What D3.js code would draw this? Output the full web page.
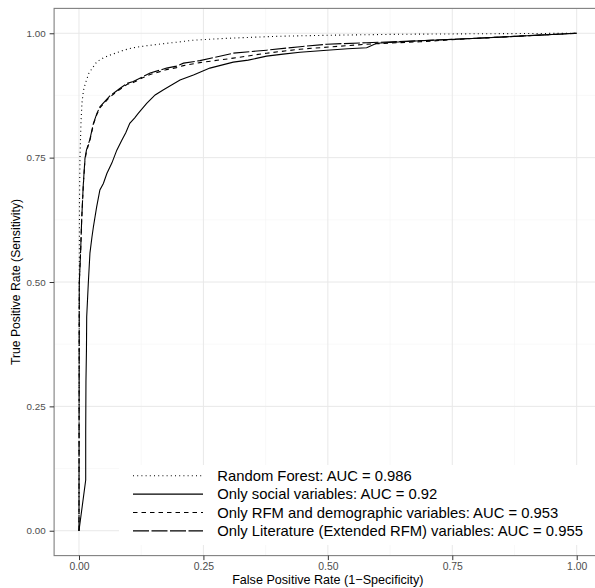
<!DOCTYPE html>
<html>
<head>
<meta charset="utf-8">
<script src="https://cdn.jsdelivr.net/npm/d3@7"></script>
<style>
  body { margin: 0; background: #fff; }
  text { font-family: "Liberation Sans", Arial, sans-serif; }
</style>
</head>
<body>
<div id="chart"></div>
<script>
// ROC curves
const rfFpr = [0, 0.0003, 0.0006, 0.001, 0.002, 0.004, 0.006, 0.009, 0.013, 0.02, 0.029, 0.036, 0.05, 0.062, 0.09, 0.109, 0.129, 0.16, 0.196, 0.229, 0.263, 0.3, 0.4, 0.5, 0.645, 0.8, 0.9, 1];
const rfTpr = [0, 0.3, 0.5, 0.66, 0.75, 0.82, 0.86, 0.885, 0.9, 0.92, 0.933, 0.943, 0.951, 0.956, 0.966, 0.971, 0.974, 0.978, 0.982, 0.986, 0.988, 0.99, 0.994, 0.996, 0.998, 0.999, 0.9995, 1];

const socFpr = [0, 0.0135, 0.0135, 0.014, 0.015, 0.0155, 0.0187, 0.022, 0.026, 0.029, 0.0355, 0.042, 0.049, 0.056, 0.066, 0.076, 0.086, 0.094, 0.102, 0.112, 0.119, 0.136, 0.153, 0.169, 0.186, 0.203, 0.23, 0.263, 0.31, 0.34, 0.377, 0.41, 0.444, 0.498, 0.54, 0.578, 0.598, 0.685, 0.8, 0.9, 1];
const socTpr = [0, 0.102, 0.2, 0.3, 0.363, 0.43, 0.497, 0.558, 0.59, 0.611, 0.651, 0.685, 0.698, 0.718, 0.739, 0.765, 0.785, 0.8, 0.819, 0.83, 0.839, 0.859, 0.876, 0.886, 0.896, 0.906, 0.916, 0.93, 0.942, 0.946, 0.954, 0.958, 0.962, 0.966, 0.969, 0.971, 0.98, 0.985, 0.99, 0.995, 1];

const rfmFpr = [0, 0.0002, 0.0004, 0.0006, 0.0034, 0.0054, 0.0086, 0.012, 0.015, 0.022, 0.029, 0.036, 0.042, 0.062, 0.082, 0.096, 0.109, 0.129, 0.143, 0.176, 0.196, 0.21, 0.243, 0.31, 0.377, 0.444, 0.524, 0.578, 0.685, 0.8, 0.9, 1];
const rfmTpr = [0, 0.2, 0.363, 0.497, 0.564, 0.625, 0.692, 0.745, 0.762, 0.785, 0.817, 0.837, 0.85, 0.872, 0.887, 0.897, 0.901, 0.911, 0.917, 0.927, 0.931, 0.935, 0.941, 0.95, 0.96, 0.968, 0.974, 0.978, 0.983, 0.99, 0.995, 1];

const litFpr = [0, 0.0002, 0.0004, 0.0006, 0.0034, 0.0054, 0.0086, 0.012, 0.015, 0.022, 0.029, 0.036, 0.042, 0.062, 0.082, 0.096, 0.109, 0.129, 0.143, 0.176, 0.196, 0.21, 0.243, 0.31, 0.377, 0.444, 0.498, 0.578, 0.685, 0.8, 0.9, 1];
const litTpr = [0, 0.2, 0.363, 0.497, 0.564, 0.625, 0.695, 0.748, 0.765, 0.787, 0.819, 0.839, 0.852, 0.874, 0.889, 0.899, 0.903, 0.913, 0.92, 0.93, 0.934, 0.94, 0.945, 0.96, 0.966, 0.973, 0.978, 0.981, 0.985, 0.99, 0.995, 1];

const seriesNames = [
  "Random Forest: AUC = 0.986",
  "Only social variables: AUC = 0.92",
  "Only RFM and demographic variables: AUC = 0.953",
  "Only Literature (Extended RFM) variables: AUC = 0.955"
];
const seriesDash = ["1,3.2", null, "4.5,4", "16,2.5"];
const ticks = [0, 0.25, 0.5, 0.75, 1];
const minorTicks = [0.125, 0.375, 0.625, 0.875];

const series = [
  { name: seriesNames[0], dash: seriesDash[0], pts: rfFpr.map((f, i) => [f, rfTpr[i]]) },
  { name: seriesNames[1], dash: seriesDash[1], pts: socFpr.map((f, i) => [f, socTpr[i]]) },
  { name: seriesNames[2], dash: seriesDash[2], pts: rfmFpr.map((f, i) => [f, rfmTpr[i]]) },
  { name: seriesNames[3], dash: seriesDash[3], pts: litFpr.map((f, i) => [f, litTpr[i]]) }
];

const width = 595, height = 588;
const x = d3.scaleLinear().domain([-0.05, 1.05]).range([54.1, 601.6]);
const y = d3.scaleLinear().domain([-0.05, 1.05]).range([555.6, 8.4]);

const svg = d3.select("#chart").append("svg")
  .attr("width", width)
  .attr("height", height);

svg.append("defs").append("clipPath").attr("id", "panel")
  .append("rect")
  .attr("x", x(-0.05)).attr("y", y(1.05))
  .attr("width", x(1.05) - x(-0.05)).attr("height", y(-0.05) - y(1.05));

const panel = svg.append("g").attr("clip-path", "url(#panel)");

// grid
panel.selectAll("line.vminor").data(minorTicks).enter().append("line")
  .attr("x1", d => x(d)).attr("x2", d => x(d))
  .attr("y1", y(1.05)).attr("y2", y(-0.05))
  .attr("stroke", "#f5f5f5").attr("stroke-width", 0.6);
panel.selectAll("line.hminor").data(minorTicks).enter().append("line")
  .attr("y1", d => y(d)).attr("y2", d => y(d))
  .attr("x1", x(-0.05)).attr("x2", x(1.05))
  .attr("stroke", "#f5f5f5").attr("stroke-width", 0.6);
panel.selectAll("line.vmajor").data(ticks).enter().append("line")
  .attr("x1", d => x(d)).attr("x2", d => x(d))
  .attr("y1", y(1.05)).attr("y2", y(-0.05))
  .attr("stroke", "#e8e8e8").attr("stroke-width", 1);
panel.selectAll("line.hmajor").data(ticks).enter().append("line")
  .attr("y1", d => y(d)).attr("y2", d => y(d))
  .attr("x1", x(-0.05)).attr("x2", x(1.05))
  .attr("stroke", "#e8e8e8").attr("stroke-width", 1);

// curves
const line = d3.line().x(d => x(d[0])).y(d => y(d[1]));
series.forEach(s => {
  panel.append("path")
    .attr("d", line(s.pts))
    .attr("fill", "none")
    .attr("stroke", "black")
    .attr("stroke-width", 1.1)
    .attr("stroke-dasharray", s.dash);
});

// legend inside the panel
const legend = panel.append("g");
legend.append("rect")
  .attr("x", 119).attr("y", 465)
  .attr("width", 480).attr("height", 80)
  .attr("fill", "white");
series.forEach((s, i) => {
  const ly = 475.7 + i * 18.4;
  legend.append("line")
    .attr("x1", 133).attr("x2", 203)
    .attr("y1", ly).attr("y2", ly)
    .attr("stroke", "black").attr("stroke-width", 1.1)
    .attr("stroke-dasharray", s.dash);
  legend.append("text")
    .attr("x", 217.3).attr("y", ly)
    .attr("dy", "0.36em")
    .attr("font-size", "14.8px")
    .attr("fill", "black")
    .text(s.name);
});

// panel border
svg.append("rect")
  .attr("x", x(-0.05)).attr("y", y(1.05))
  .attr("width", x(1.05) - x(-0.05)).attr("height", y(-0.05) - y(1.05))
  .attr("fill", "none").attr("stroke", "#7f7f7f").attr("stroke-width", 1.1);

// axes
const xAxis = svg.append("g")
  .attr("transform", `translate(0,${y(-0.05)})`)
  .call(d3.axisBottom(x).tickValues(ticks).tickFormat(d3.format(".2f")).tickSize(4.5).tickPadding(3));
const yAxis = svg.append("g")
  .attr("transform", `translate(${x(-0.05)},0)`)
  .call(d3.axisLeft(y).tickValues(ticks).tickFormat(d3.format(".2f")).tickSize(4.5).tickPadding(4));
[xAxis, yAxis].forEach(a => {
  a.select(".domain").remove();
  a.selectAll(".tick line").attr("stroke", "#333").attr("stroke-width", 1);
  a.selectAll(".tick text").attr("fill", "#4d4d4d")
    .style("font-family", '"Liberation Sans", Arial, sans-serif');
});
xAxis.selectAll(".tick text").attr("font-size", "10.4px");
yAxis.selectAll(".tick text").attr("font-size", "9.8px");

// axis titles
svg.append("text")
  .attr("x", (x(-0.05) + x(1.05)) / 2).attr("y", 584)
  .attr("text-anchor", "middle")
  .attr("font-size", "12.6px")
  .text("False Positive Rate (1\u2212Specificity)");
svg.append("text")
  .attr("transform", `translate(20,${(y(-0.05) + y(1.05)) / 2}) rotate(-90)`)
  .attr("text-anchor", "middle")
  .attr("font-size", "12.2px")
  .text("True Positive Rate (Sensitivity)");
</script>
</body>
</html>
